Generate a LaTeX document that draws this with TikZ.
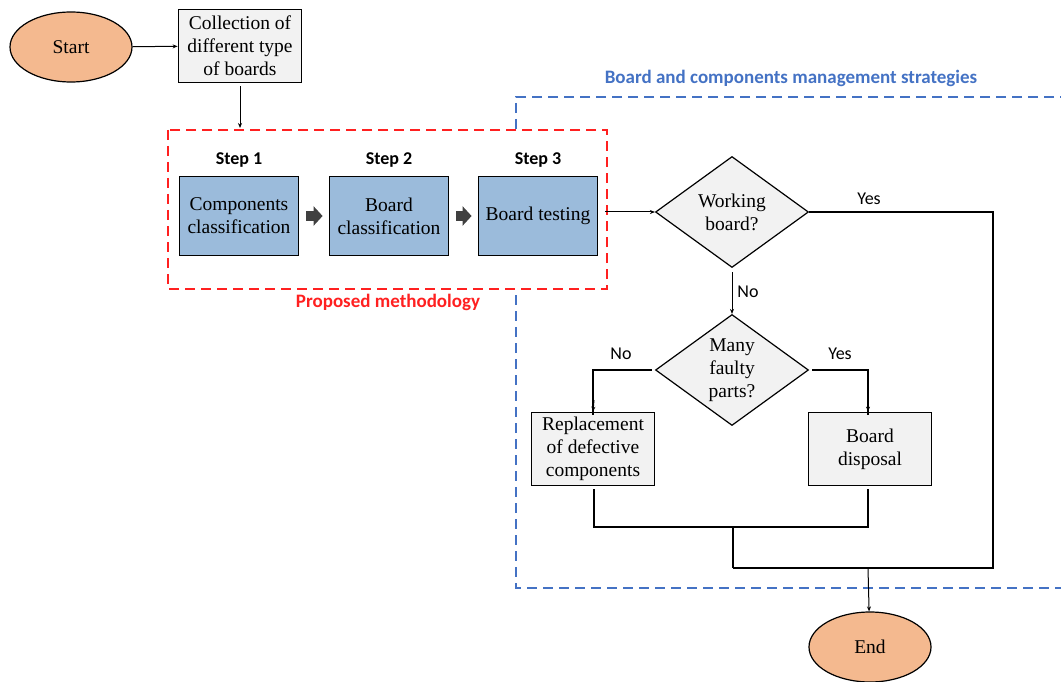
\documentclass[tikz,border=0pt]{standalone}
\usepackage{fontspec}
\setmainfont{Liberation Serif}
\newfontfamily\labelfont{Carlito}
\usetikzlibrary{positioning,shapes.geometric,arrows.meta}

\definecolor{termfill}{HTML}{F4B98F}
\definecolor{stepfill}{HTML}{9BBBDB}
\definecolor{grayfill}{HTML}{F2F2F2}
\definecolor{blockgray}{HTML}{404040}
\definecolor{methred}{HTML}{FF2020}
\definecolor{stratblue}{HTML}{4472C4}

\begin{document}
\begin{tikzpicture}[
  x=1pt, y=-1pt,
  term/.style={draw, ellipse, fill=termfill, line width=1.2pt, minimum width=122pt, minimum height=70pt, font=\fontsize{19.5}{23}\selectfont},
  graybox/.style={draw, fill=grayfill, line width=1.8pt, align=center, minimum width=123pt, minimum height=73pt, inner sep=1pt, font=\fontsize{19.5}{23}\selectfont},
  stepbox/.style={draw, fill=stepfill, line width=1.8pt, align=center, minimum width=119pt, minimum height=79pt, inner sep=1pt, font=\fontsize{19.5}{23}\selectfont},
  decision/.style={draw, diamond, fill=grayfill, line width=1.2pt, align=center, minimum width=153pt, minimum height=111pt, inner sep=0pt, font=\fontsize{19.5}{23}\selectfont},
  steplabel/.style={font=\labelfont\bfseries\fontsize{18}{21}\selectfont},
  answer/.style={font=\labelfont\fontsize{18}{21}\selectfont},
  line/.style={line width=1.3pt},
  arrow/.style={line width=1pt, -{Stealth[length=5pt,width=4pt]}},
  blockarrow/.style={blockgray, line width=9pt, -{Triangle[length=9pt,width=19pt]}, shorten <=7pt, shorten >=6pt}
]
\useasboundingbox (0,0) rectangle (1061,682);

% management strategies frame
\draw[stratblue, line width=1.5pt, dash pattern=on 10pt off 6pt] (1070,97) -- (516,97) -- (516,588) -- (1070,588);
\node[font=\labelfont\bfseries\fontsize{19}{22}\selectfont, text=stratblue] (stratlabel) at (791,78) {Board and components management strategies};

% proposed methodology frame
\draw[methred, fill=white, line width=1.5pt, dash pattern=on 10pt off 6pt] (168,130) rectangle (607,289);
\node[font=\labelfont\bfseries\fontsize{19}{22}\selectfont, text=methred] (methlabel) at (388,302) {Proposed methodology};

\node[term] (start) at (71,47) {Start};
\node[graybox] (collect) at (240,46) {Collection of\\different type\\of boards};

\node[stepbox] (compclass) at (239,216) {Components\\classification};
\node[stepbox] (boardclass) at (389,216) {Board\\classification};
\node[stepbox] (testing) at (538,216) {Board testing};
\node[steplabel] at (239,160) {Step 1};
\node[steplabel] at (389,160) {Step 2};
\node[steplabel] at (538,160) {Step 3};

\node[decision] (working) at (732,212) {Working\\board?};
\node[decision] (faulty) at (732,370) {Many\\faulty\\parts?};
\node[graybox] (replace) at (593,449) {Replacement\\of defective\\components};
\node[graybox] (disposal) at (870,449) {Board\\disposal};
\node[term] (end) at (870,647) {End};

\coordinate (yesturn) at (993,568);
\coordinate (merge) at (733,527);
\coordinate (join) at (733,568);
\coordinate (endtop) at (868,568);

\draw[arrow] (start) -- (collect);
\draw[arrow, shorten <=3pt] (collect) -- (240,128);
\draw[blockarrow] (compclass) -- (boardclass);
\draw[blockarrow] (boardclass) -- (testing);
\draw[arrow] (testing.east |- working.west) ++(7,0) -- (working.west);

\draw[line] (working.east) -| (yesturn) -- (join);
\node[answer] at (869,199) {Yes};
\draw[arrow] (working.south) ++(0,4) -- (faulty.north);
\node[answer] at (748,292) {No};

\draw[line] (faulty.west) ++(-3,0) -| ([yshift=-3pt]replace.north);
\draw[arrow] (594,400) -- (replace.north);
\draw[line] (faulty.east) ++(3,0) -| ([yshift=-3pt]disposal.north -| 868,0);
\draw[arrow] (868,400) -- (disposal.north -| 868,0);
\node[answer] at (621,354) {No};
\node[answer] at (840,354) {Yes};

\draw[line] ([yshift=-3pt]replace.south -| 594,0) |- (merge) -| ([yshift=-3pt]disposal.south -| 868,0);
\draw[line] (merge) -- (join);
\draw[arrow] (endtop) -- (end);
\end{tikzpicture}
\end{document}
